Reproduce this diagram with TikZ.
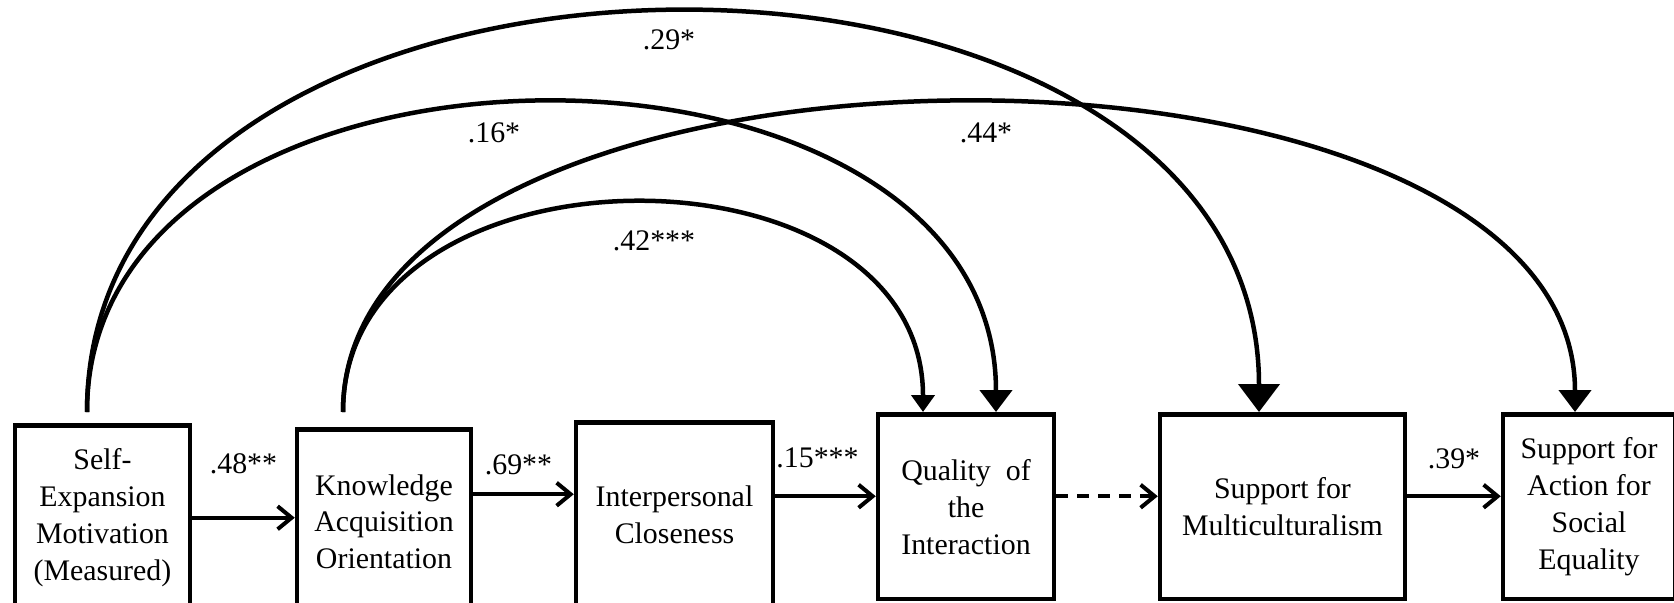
\documentclass[tikz,border=0pt]{standalone}
\usepackage{fontspec}
\setmainfont{Liberation Serif}
\usepackage{tikz}
\usetikzlibrary{arrows.meta}
\usetikzlibrary{calc}

\begin{document}
\begin{tikzpicture}[x=0.02cm, y=-0.02cm]
    \tikzstyle{var} = [
      draw=black,
      line width=0.09cm,
      anchor=north,
      align=center,
      inner sep=0pt,
      minimum height=3.7cm,
      font=\fontsize{17}{21}\selectfont,
    ]
    \tikzstyle{pathline} = [
      line width=0.08cm,
      -{Straight Barb[length=0.28cm, width=0.46cm]},
      draw=black,
    ]
    \tikzstyle{corr} = [
      line width=0.09cm,
      draw=black,
    ]
    \tikzstyle{coef} = [
      anchor=center,
      inner sep=0pt,
      font=\fontsize{17}{21}\selectfont,
    ]

    \newcommand{\smallhead}[0]{Triangle[width=0.46cm, length=0.34cm]}
    \newcommand{\midhead}[0]{Triangle[width=0.64cm, length=0.44cm]}
    \newcommand{\bighead}[0]{Triangle[width=0.82cm, length=0.56cm]}

    \path[use as bounding box] (0,0) rectangle (1674,602);
    \clip (0,0) rectangle (1674,602);

    % variables
    {
      \node[var, minimum width=3.5cm]  (selfBox)   at (102.5,423) {Self-\\Expansion\\Motivation\\(Measured)};
      \node[var, minimum width=3.48cm] (knowBox)   at (384,427)   {Knowledge\\Acquisition\\Orientation};
      \node[var, minimum width=3.94cm] (closeBox)  at (674.5,420) {Interpersonal\\Closeness};
      \node[var, minimum width=3.52cm] (qualBox)   at (966,412)   {Quality\ \ of\\the\\Interaction};
      \node[var, minimum width=4.9cm]  (multiBox)  at (1282.5,412) {Support for\\Multiculturalism};
      \node[var, minimum width=3.44cm] (actionBox) at (1589,412)  {Support for\\Action for\\Social\\Equality};
    }

    % ends of the curved paths
    \coordinate (selfTop)  at ([xshift=-0.31cm, yshift=0.22cm] selfBox.north);
    \coordinate (knowTop)  at ([xshift=-0.82cm, yshift=0.30cm] knowBox.north);
    \coordinate (qualInA)  at ([xshift=-0.86cm] qualBox.north);
    \coordinate (qualInB)  at ([xshift=0.60cm] qualBox.north);
    \coordinate (multiIn)  at ([xshift=-0.47cm] multiBox.north);
    \coordinate (actionIn) at ([xshift=-0.28cm] actionBox.north);

    % ends of the straight paths
    \coordinate (knowOut)  at ([yshift=0.55cm] knowBox.east);
    \coordinate (closeOut) at ([yshift=0.37cm] closeBox.east);
    \coordinate (qualOut)  at ([yshift=0.21cm] qualBox.east);
    \coordinate (multiOut) at ([yshift=0.21cm] multiBox.east);

    % straight paths
    {
      \draw[pathline] (selfBox.east) -- (selfBox.east -| knowBox.west)
        node[coef, midway, yshift=1.08cm] (selfKnowCoef) {.48**};
      \draw[pathline] (knowOut) -- (knowOut -| closeBox.west)
        node[coef, midway, yshift=0.58cm, xshift=-0.1cm] (knowCloseCoef) {.69**};
      \draw[pathline] (closeOut) -- (closeOut -| qualBox.west)
        node[coef, midway, yshift=0.76cm, xshift=-0.16cm] (closeQualCoef) {.15***};
      \draw[pathline, dash pattern=on 0.24cm off 0.18cm] (qualOut) -- (qualOut -| multiBox.west);
      \draw[pathline] (multiOut) -- (multiOut -| actionBox.west)
        node[coef, midway, yshift=0.74cm] (multiActionCoef) {.39*};
    }

    % curved paths
    {
      \draw[corr, -{\bighead}] (selfTop) .. controls +(0,-532) and +(0,-532) .. (multiIn)
        node[coef, pos=0.5, xshift=-0.08cm, yshift=-0.54cm] (selfMultiCoef) {.29*};
      \draw[corr, -{\midhead}] (selfTop) .. controls +(0,-412) and +(0,-412) .. (qualInB)
        node[coef, pos=0.5, xshift=-0.95cm, yshift=-0.6cm] (selfQualCoef) {.16*};
      \draw[corr, -{\midhead}] (knowTop) .. controls +(0,-412) and +(0,-412) .. (actionIn)
        node[coef, pos=0.5, xshift=0.54cm, yshift=-0.6cm] (knowActionCoef) {.44*};
      \draw[corr, -{\smallhead}] (knowTop) .. controls +(0,-279) and +(0,-279) .. (qualInA)
        node[coef, pos=0.5, xshift=0.42cm, yshift=-0.76cm] (knowQualCoef) {.42***};
    }
\end{tikzpicture}
\end{document}
